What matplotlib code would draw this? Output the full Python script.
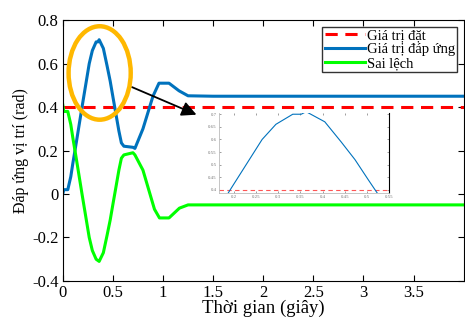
import matplotlib.pyplot as plt
from matplotlib.patches import Ellipse

plt.rcParams['font.family'] = ['Liberation Serif', 'DejaVu Serif']

# data
setpoint = 0.4
t_resp = [0, 0.01, 0.05, 0.08, 0.10, 0.136, 0.192, 0.264, 0.295, 0.333, 0.352, 0.363,
          0.405, 0.442, 0.473, 0.503, 0.526, 0.56, 0.585, 0.61, 0.70, 0.72, 0.80,
          0.90, 0.96, 1.06, 1.16, 1.25, 1.5, 2.0, 4.0]
resp = [0, 0.02, 0.02, 0.08, 0.14, 0.24, 0.40, 0.60, 0.66, 0.70, 0.70, 0.71,
        0.67, 0.59, 0.52, 0.44, 0.38, 0.29, 0.235, 0.22, 0.215, 0.21, 0.30,
        0.45, 0.51, 0.51, 0.475, 0.452, 0.45, 0.45, 0.45]
t_err = [0, 0.01, 0.05, 0.08, 0.10, 0.136, 0.192, 0.264, 0.295, 0.333, 0.363, 0.405,
         0.442, 0.473, 0.503, 0.526, 0.56, 0.585, 0.61, 0.70, 0.72, 0.80, 0.915,
         0.965, 1.06, 1.164, 1.25, 4.0]
err = [0.41, 0.38, 0.38, 0.32, 0.26, 0.16, 0.0, -0.2, -0.26, -0.3, -0.31, -0.27,
       -0.19, -0.12, -0.04, 0.02, 0.11, 0.165, 0.18, 0.19, 0.18, 0.11, -0.07,
       -0.11, -0.11, -0.065, -0.05, -0.05]
xticks = [0, 0.5, 1, 1.5, 2, 2.5, 3, 3.5]
yticks = [-0.4, -0.2, 0, 0.2, 0.4, 0.6, 0.8]

blue = '#0072BD'

fig = plt.figure(figsize=(4.65, 3.2), dpi=100)
ax = fig.add_axes([0.135, 0.122, 0.862, 0.815])

ax.axhline(setpoint, color='#FF0000', ls=(0, (4, 2.5)), lw=2.2, label='Giá trị đặt')
ax.plot(t_resp, resp, color=blue, lw=2.2, label='Giá trị đáp ứng')
ax.plot(t_err, err, color='#00FF00', lw=2.2, label='Sai lệch')

ax.set_xlim(0, 4)
ax.set_ylim(-0.4, 0.8)
ax.set_xticks(xticks)
ax.set_xticklabels(['0', '0.5', '1', '1.5', '2', '2.5', '3', '3.5'])
ax.set_yticks(yticks)
ax.set_yticklabels(['-0.4', '-0.2', '0', '0.2', '0.4', '0.6', '0.8'])
ax.tick_params(direction='in', top=True, right=True, labelsize=12, length=4, pad=3)
ax.set_xlabel('Thời gian (giây)', fontsize=13.5, labelpad=-1)
ax.set_ylabel('Đáp ứng vị trí (rad)', fontsize=11.5, labelpad=2)

leg = ax.legend(loc='upper right', bbox_to_anchor=(0.984, 0.975), fontsize=10.5,
                frameon=True, fancybox=False, edgecolor='#333333', framealpha=1,
                handlelength=2.8, handletextpad=0.1, borderpad=0.15, labelspacing=0.05,
                borderaxespad=0)
leg.get_frame().set_linewidth(1.0)

# highlight ellipse and arrow
ax.add_patch(Ellipse((0.368, 0.557), 0.62, 0.43, fill=False, ec='#FFB800', lw=3.2, zorder=5))
ax.annotate('', xy=(1.36, 0.36), xytext=(0.665, 0.497),
            arrowprops=dict(arrowstyle='-|>', color='k', lw=1.3, mutation_scale=22))

# zoom inset
ins = fig.add_axes([0.471, 0.397, 0.366, 0.25])
ins.axhline(setpoint, color='#FF5555', ls=(0, (4, 3)), lw=0.8)
ins.plot(t_resp, resp, color=blue, lw=0.8)
ins.set_xlim(0.167, 0.55)
ins.set_ylim(0.388, 0.705)
ins.set_xticks([0.2, 0.25, 0.3, 0.35, 0.4, 0.45, 0.5, 0.55])
ins.set_xticklabels(['0.2', '0.25', '0.3', '0.35', '0.4', '0.45', '0.5', '0.55'])
ins.set_yticks([0.4, 0.45, 0.5, 0.55, 0.6, 0.65, 0.7])
ins.set_yticklabels(['0.4', '0.45', '0.5', '0.55', '0.6', '0.65', '0.7'])
ins.tick_params(direction='in', labelsize=3.5, length=1.5, width=0.5, pad=1.5,
                colors='#777777', top=True, right=True)
for s in ['left', 'bottom']:
    ins.spines[s].set_color('#BBBBBB')
    ins.spines[s].set_linewidth(0.6)
ins.spines['top'].set_visible(False)
ins.spines['right'].set_color('k')
ins.spines['right'].set_linewidth(0.8)

fig.savefig('out.png', dpi=100)
